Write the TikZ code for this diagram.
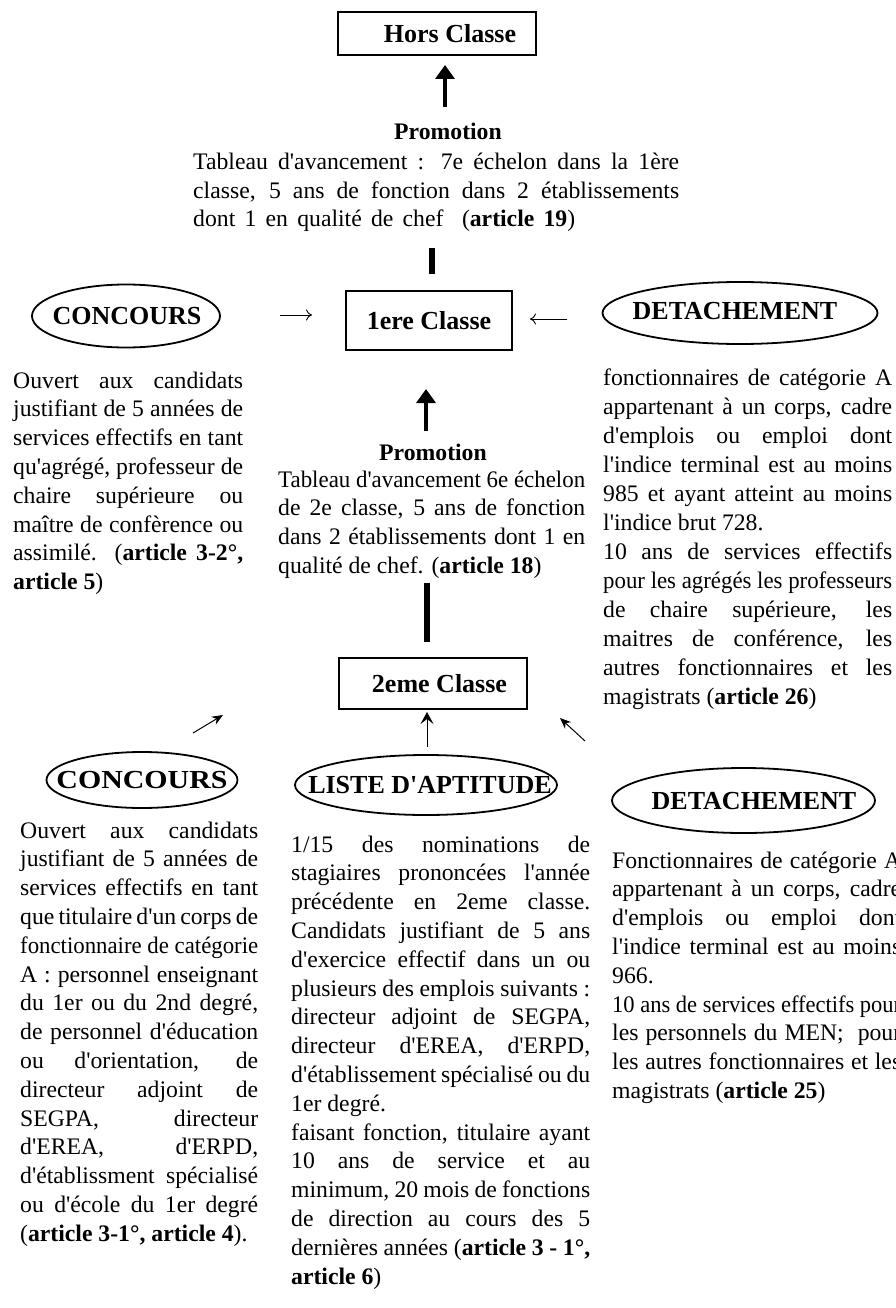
\documentclass[tikz,border=0pt]{standalone}
\usepackage{fontspec}
\usepackage{graphicx}
\setmainfont{Liberation Serif}
\newfontfamily\tf{Liberation Serif}
\usetikzlibrary{arrows.meta,shapes.geometric}
\newcommand\TB[3]{\vtop{\hsize=#1\tf\fontsize{23.7}{#2}\selectfont #3}}
\newcommand\J[1]{\setbox0=\hbox{#1}\setbox2=\hbox to\hsize{\unhcopy0}%
 \ifnum\badness>10000 \hbox to\hsize{\resizebox{\hsize}{\height}{\box0}}\else\box2\fi}
\newcommand\Lf[1]{\hbox to \hsize{#1\hfil}}
\newcommand\Jw[2]{\hbox to \hsize{\hbox to #1{#2}\hfil}}
\tikzset{
 cbox/.style={draw, line width=2pt, inner sep=0pt, font=\tf\fontsize{26}{30}\selectfont\bfseries},
 ell/.style={draw, ellipse, line width=1.8pt, inner sep=0pt},
 lab/.style={inner sep=0pt, font=\tf\fontsize{26}{30}\selectfont\bfseries},
 promo/.style={inner sep=0pt, anchor=base, font=\tf\fontsize{23.7}{28}\selectfont\bfseries},
 txt/.style={inner sep=0pt, anchor=base west},
 bigarrow/.style={line width=4pt, -{Triangle[length=14pt,width=19pt]}},
 bar/.style={line width=6pt},
 thinarrow/.style={line width=0.9pt, -{To[length=6pt,width=11pt]}},
 slant/.style={line width=1pt, -{Stealth[length=11pt,width=9pt]}},
 uparrow/.style={line width=1pt, -{Stealth[length=12pt,width=13pt,inset=5pt]}},
}
\begin{document}
\begin{tikzpicture}[x=1pt,y=-1pt]
\fill[white] (0,0) rectangle (896,1308);
\useasboundingbox (0,0) rectangle (896,1308);

% ---- Hors Classe
\node[cbox, minimum width=198pt, minimum height=43pt] (hors) at (437,33.5) {\hspace*{26pt}Hors Classe};
\coordinate (a1s) at (445,107); \coordinate (a1e) at (445,65);
\draw[bigarrow] (a1s) -- (a1e);
\node[promo] (p1) at (448,140) {Promotion};
\node[txt] (t1) at (193,170) {\TB{486pt}{28.5pt}{%
\J{Tableau d'avancement : 7e échelon dans la 1ère}%
\J{classe, 5 ans de fonction dans 2 établissements}%
\Jw{382pt}{dont 1 en qualité de chef\ \ (\textbf{article 19})}}};
\coordinate (b1s) at (432,248); \coordinate (b1e) at (432,274);
\draw[bar] (b1s) -- (b1e);

% ---- 1ere Classe row
\node[ell, minimum width=188pt, minimum height=63pt] (c1) at (126,316) {};
\node[lab] (c1t) at (127,316) {CONCOURS};
\node[cbox, minimum width=166pt, minimum height=59pt] (cl1) at (429,320.5) {1ere Classe};
\node[ell, minimum width=275pt, minimum height=62pt] (d1) at (740,313) {};
\node[lab] (d1t) at (735,311) {DETACHEMENT};
\coordinate (r1s) at (280,315); \coordinate (r1e) at (312,315);
\draw[thinarrow] (r1s) -- (r1e);
\coordinate (l1s) at (567,319); \coordinate (l1e) at (530,319);
\draw[thinarrow] (l1s) -- (l1e);

% ---- top left text
\node[txt] (tl) at (13,388) {\TB{230pt}{28.8pt}{%
\J{Ouvert aux candidats}%
\J{justifiant de 5 années de}%
\J{services effectifs en tant}%
\J{qu'agrégé, professeur de}%
\J{chaire supérieure ou}%
\J{maître de confèrence ou}%
\J{assimilé. (\textbf{article 3-2°,}}%
\Lf{\textbf{article 5})}}};

% ---- middle promotion
\coordinate (a2s) at (426,431); \coordinate (a2e) at (426,389);
\draw[bigarrow] (a2s) -- (a2e);
\node[promo] (p2) at (433,460) {Promotion};
\node[txt] (tm) at (278,487) {\TB{307pt}{28.8pt}{%
\J{Tableau d'avancement 6e échelon}%
\J{de 2e classe, 5 ans de fonction}%
\J{dans 2 établissements dont 1 en}%
\Lf{qualité de chef. (\textbf{article 18})}}};
\coordinate (b2s) at (427,583); \coordinate (b2e) at (427,642);
\draw[bar] (b2s) -- (b2e);

% ---- top right text
\node[txt] (tr) at (603,385) {\TB{289pt}{29pt}{%
\J{fonctionnaires de catégorie A}%
\J{appartenant à un corps, cadre}%
\J{d'emplois ou emploi dont}%
\J{l'indice terminal est au moins}%
\J{985 et ayant atteint au moins}%
\Lf{l'indice brut 728.}%
\J{10 ans de services effectifs}%
\J{pour les agrégés les professeurs}%
\J{de chaire supérieure, les}%
\J{maitres de conférence, les}%
\J{autres fonctionnaires et les}%
\Lf{magistrats (\textbf{article 26})}}};

% ---- 2eme Classe
\node[cbox, minimum width=188pt, minimum height=51pt] (cl2) at (433,683.5) {\hspace*{13pt}2eme Classe};
\coordinate (s1s) at (193,733); \coordinate (s1e) at (223,715);
\draw[slant] (s1s) -- (s1e);
\coordinate (u1s) at (427,747); \coordinate (u1e) at (427,712);
\draw[uparrow] (u1s) -- (u1e);
\coordinate (s2s) at (585,741); \coordinate (s2e) at (560,718);
\draw[slant] (s2s) -- (s2e);

% ---- bottom ellipses
\node[ell, minimum width=191pt, minimum height=56pt] (c2) at (142,780) {};
\node[lab] (c2t) at (142,780) {\scalebox{1.15}[1]{CONCOURS}};
\node[ell, minimum width=262pt, minimum height=60pt] (la) at (426,785) {};
\node[lab] (lat) at (430,785) {LISTE D'APTITUDE};
\node[ell, minimum width=263pt, minimum height=65pt] (d2) at (743.5,800.5) {};
\node[lab] (d2t) at (754,801) {DETACHEMENT};

% ---- bottom texts
\node[txt] (bl) at (20,838) {\TB{238pt}{28.8pt}{%
\J{Ouvert aux candidats}%
\J{justifiant de 5 années de}%
\J{services effectifs en tant}%
\J{que titulaire d'un corps de}%
\J{fonctionnaire de catégorie}%
\J{A : personnel enseignant}%
\J{du 1er ou du 2nd degré,}%
\J{de personnel d'éducation}%
\J{ou d'orientation, de}%
\J{directeur adjoint de}%
\J{SEGPA, directeur}%
\J{d'EREA, d'ERPD,}%
\J{d'établissment spécialisé}%
\J{ou d'école du 1er degré}%
\Lf{(\textbf{article 3-1°, article 4}).}}};

\node[txt] (bm) at (291,852) {\TB{299pt}{28.8pt}{%
\J{1/15 des nominations de}%
\J{stagiaires prononcées l'année}%
\J{précédente en 2eme classe.}%
\J{Candidats justifiant de 5 ans}%
\J{d'exercice effectif dans un ou}%
\J{plusieurs des emplois suivants :}%
\J{directeur adjoint de SEGPA,}%
\J{directeur d'EREA, d'ERPD,}%
\J{d'établissement spécialisé ou du}%
\Lf{1er degré.}%
\J{faisant fonction, titulaire ayant}%
\J{10 ans de service et au}%
\J{minimum, 20 mois de fonctions}%
\J{de direction au cours des 5}%
\J{dernières années (\textbf{article 3 - 1°,}}%
\Lf{\textbf{article 6})}}};

\node[txt] (br) at (612,868) {\TB{289pt}{28.8pt}{%
\J{Fonctionnaires de catégorie A}%
\J{appartenant à un corps, cadre}%
\J{d'emplois ou emploi dont}%
\J{l'indice terminal est au moins}%
\Lf{966.}%
\J{10 ans de services effectifs pour}%
\J{les personnels du MEN;\ \ pour}%
\J{les autres fonctionnaires et les}%
\Lf{magistrats (\textbf{article 25})}}};
\end{tikzpicture}
\end{document}
